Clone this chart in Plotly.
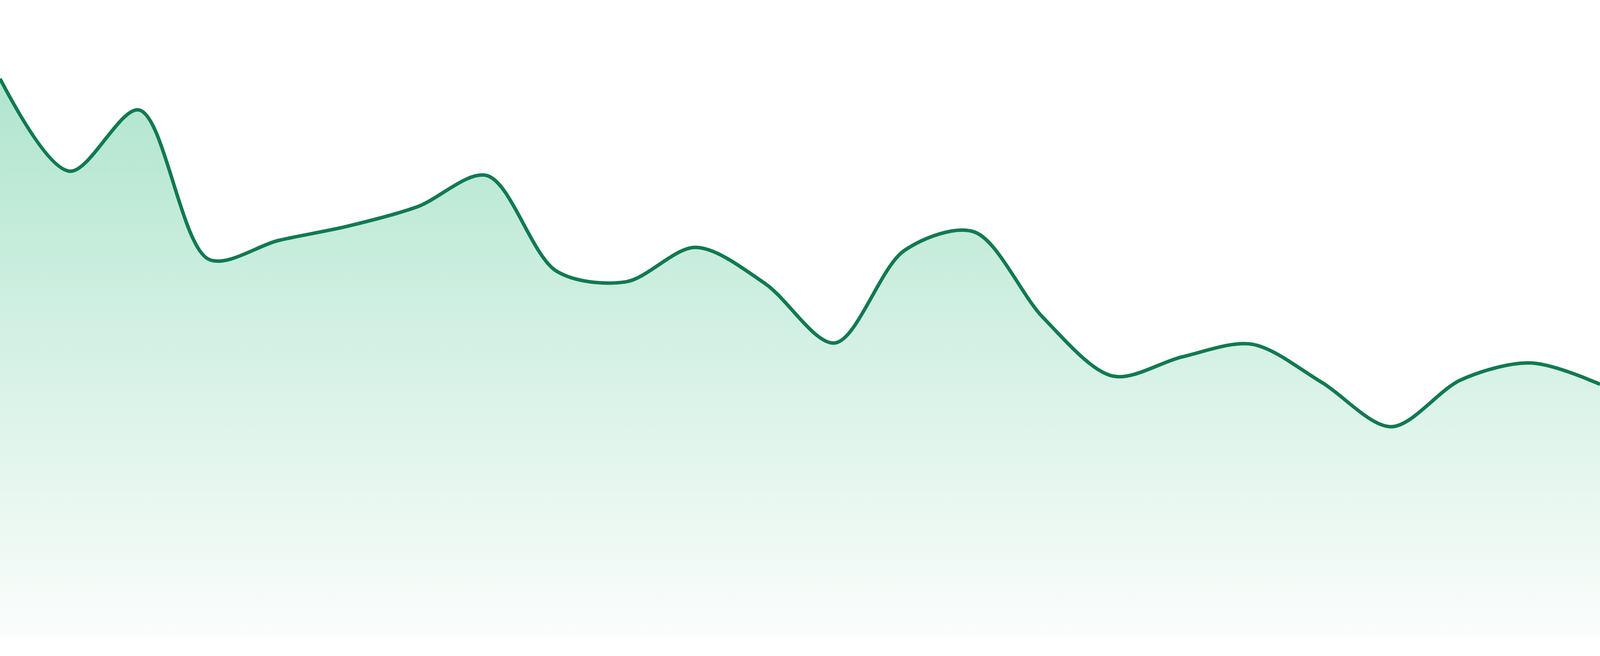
import plotly.graph_objects as go

# one value per day
days = list(range(1, 25))
values = [89.4, 74.6, 84.4, 60.5, 63.5, 65.8, 68.9, 73.9, 58.6, 56.9, 62.4, 56.6,
          47.1, 61.9, 64.9, 51.1, 41.8, 44.9, 46.9, 40.8, 33.7, 41.2, 43.9, 40.5]

line_color = '#117a50'

trace = go.Scatter(
    x=days,
    y=values,
    mode='lines',
    line=dict(color=line_color, width=9, shape='spline', smoothing=0.9),
    fill='tozeroy',
    fillgradient=dict(
        type='vertical',
        colorscale=[[0, 'rgb(250,253,251)'], [1, 'rgb(176,229,207)']],
        start=0,
        stop=max(values),
    ),
    hoverinfo='skip',
)

layout = go.Layout(
    autosize=True,
    margin=dict(l=0, r=0, t=0, b=48),
    paper_bgcolor='white',
    plot_bgcolor='white',
    showlegend=False,
    xaxis=dict(range=[days[0], days[-1]], visible=False),
    yaxis=dict(range=[0, 102], visible=False),
)

fig = go.Figure(data=[trace], layout=layout)
# drop the page margin so the plot fills the window edge to edge
fig.write_html('out.html', config={'displayModeBar': False, 'responsive': True},
               post_script="document.body.style.margin='0';window.dispatchEvent(new Event('resize'));")
